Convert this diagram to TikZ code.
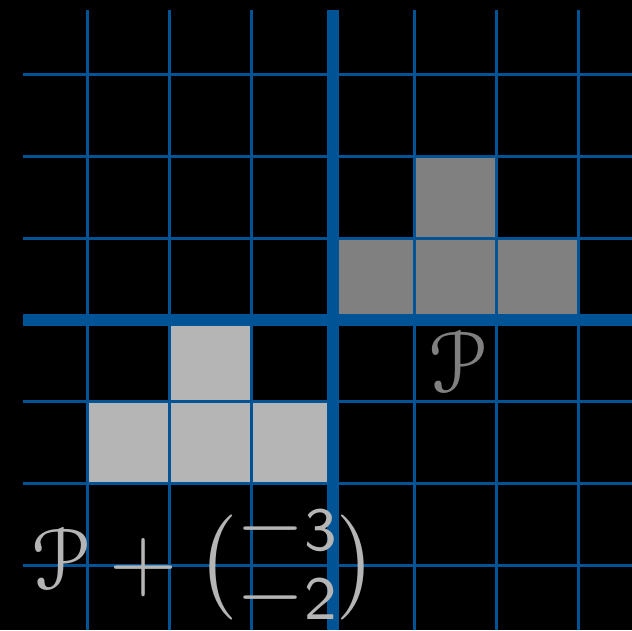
\documentclass[tikz,border=0pt]{standalone}
\usepackage{amsmath,amssymb}
\usepackage[mathcal]{eucal}
\usepackage{tikz}
\definecolor{gridblue}{RGB}{0,84,150}
\definecolor{darkcell}{RGB}{128,128,128}
\definecolor{lightcell}{RGB}{181,181,181}

\begin{document}
\begin{tikzpicture}[x=1cm,y=1cm,
  gridline/.style={gridblue,line width=1.05pt},
  axisline/.style={gridblue,line width=4.5pt},
  biglabel/.style={scale=3.05,inner sep=0pt}]
  \fill[black] (-4.077,-3.796) rectangle (3.661,3.918);
  \useasboundingbox (-4.077,-3.796) rectangle (3.661,3.918);
  \clip (-4.077,-3.796) rectangle (3.661,3.918);
  % the shape P
  \foreach \x/\y in {0/0,1/0,2/0,1/1}{\fill[darkcell] (\x,\y) rectangle ++(1,1);}
  % P shifted by (-3,-2)
  \foreach \x/\y in {-3/-2,-2/-2,-1/-2,-2/-1}{\fill[lightcell] (\x,\y) rectangle ++(1,1);}
  \foreach \i in {-3,...,3}{
    \draw[gridline] (\i,-3.8) -- (\i,3.8);
    \draw[gridline] (-3.8,\i) -- (3.8,\i);}
  \draw[axisline] (0,-3.8) -- (0,3.8);
  \draw[axisline] (-3.8,0) -- (3.8,0);
  \node[biglabel,darkcell] (p) at (1.52,-0.51) {$\mathcal{P}$};
  \node[biglabel,lightcell] (pshift) at (-1.57,-2.98)
    {$\mathcal{P}+\binom{{\textstyle-}\mathsf{3}}{{\textstyle-}\mathsf{2}}$};
\end{tikzpicture}
\end{document}
